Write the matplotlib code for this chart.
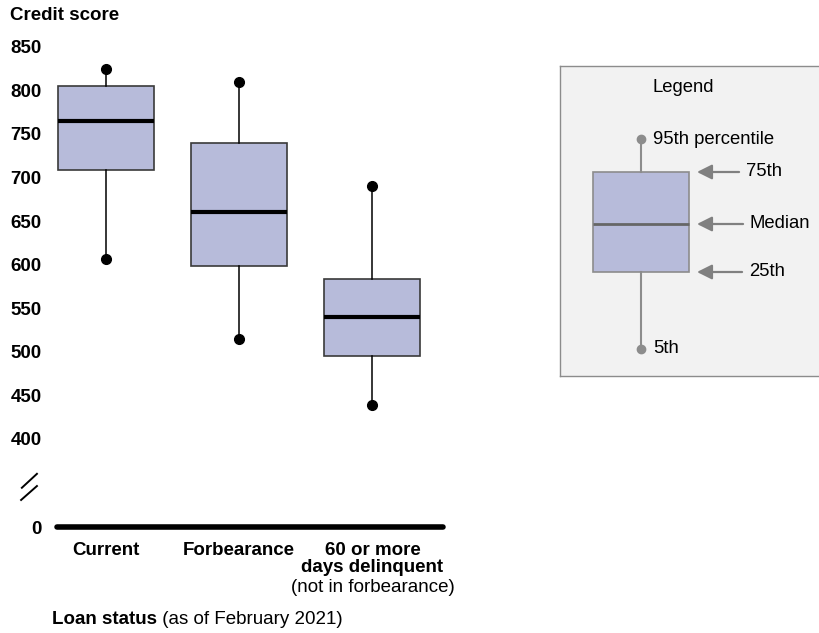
import matplotlib.pyplot as plt
from matplotlib.transforms import blended_transform_factory

plt.rcParams['font.family'] = ['Liberation Sans', 'DejaVu Sans']

# 数据 (从图上读出的百分位数)
categories = ['Current', 'Forbearance', '60 or more\ndays delinquent']
sub_labels = ['', '', '(not in forbearance)']
p5 = [607, 515, 439]
p25 = [708, 598, 495]
median = [765, 660, 540]
p75 = [805, 740, 584]
p95 = [825, 810, 690]

y_ticks = [400, 450, 500, 550, 600, 650, 700, 750, 800, 850]
zero_pos = 299  # "0" 在断轴下方的位置

legend_labels = ['95th percentile', '75th', 'Median', '25th', '5th']

box_fill = '#b7bbda'
fs = 13.5

fig = plt.figure(figsize=(8.2, 6.33), dpi=100)
ax = fig.add_axes([57 / 820, 1 - 527 / 633, 386 / 820, 489 / 633])

stats = []
for i in range(len(categories)):
    stats.append(dict(med=median[i], q1=p25[i], q3=p75[i],
                      whislo=p5[i], whishi=p95[i], fliers=[p5[i], p95[i]]))

ax.bxp(stats, positions=range(len(categories)), widths=0.72, showcaps=False, patch_artist=True,
       boxprops=dict(facecolor=box_fill, edgecolor='#3a3a3a', linewidth=1.2),
       medianprops=dict(color='black', linewidth=3, solid_capstyle='butt'),
       whiskerprops=dict(color='black', linewidth=1.1),
       flierprops=dict(marker='o', markerfacecolor='black', markeredgecolor='black', markersize=7))

ax.set_xlim(-0.368, 2.53)
ax.set_ylim(zero_pos, 860)
for s in ax.spines.values():
    s.set_visible(False)

# 底部粗线
ax.axhline(zero_pos, color='black', linewidth=4, clip_on=False, solid_capstyle='round')

ax.set_yticks([zero_pos] + y_ticks)
ax.set_yticklabels(['0'] + [str(v) for v in y_ticks], fontweight='bold', fontsize=fs)
ax.set_xticks(range(len(categories)))
ax.set_xticklabels(categories, fontweight='bold', fontsize=fs, linespacing=0.95)
ax.tick_params(axis='y', length=0, pad=11)
ax.tick_params(axis='x', length=0, pad=11)

for i, s in enumerate(sub_labels):
    if s:
        ax.annotate(s, xy=(i, zero_pos), xytext=(0, -61), textcoords='offset pixels',
                    ha='center', va='center', fontsize=fs, annotation_clip=False)

# 断轴标记
tr = blended_transform_factory(ax.transAxes, ax.transData)
ax.plot([-0.091, -0.052], [344, 360], color='black', lw=1.4, transform=tr, clip_on=False)
ax.plot([-0.093, -0.052], [330, 346], color='black', lw=1.4, transform=tr, clip_on=False)

fig.text(10 / 820, 1 - 15 / 633, 'Credit score', fontweight='bold', fontsize=fs, va='center')
t = fig.text(52 / 820, 1 - 619 / 633, 'Loan status', fontweight='bold', fontsize=fs, va='center')
ax.annotate(' (as of February 2021)', xy=(1, 0), xycoords=t, ha='left', va='bottom',
            fontsize=fs, annotation_clip=False)

# 图例
lax = fig.add_axes([560 / 820, 1 - 376 / 633, 262 / 820, 310 / 633])
lax.set_facecolor('#f2f2f2')
for s in lax.spines.values():
    s.set_color('#8c8c8c')
    s.set_linewidth(1)

leg = dict(med=152, q1=104, q3=204, whislo=27, whishi=237, fliers=[27, 237])
lax.bxp([leg], positions=[81], widths=96, showcaps=False, patch_artist=True,
        boxprops=dict(facecolor=box_fill, edgecolor='#8c8c8c', linewidth=1.2),
        medianprops=dict(color='#666666', linewidth=2, solid_capstyle='butt'),
        whiskerprops=dict(color='#8c8c8c', linewidth=1.5),
        flierprops=dict(marker='o', markerfacecolor='#8c8c8c', markeredgecolor='#8c8c8c', markersize=6))
lax.set_xlim(0, 262)
lax.set_ylim(0, 310)
lax.set_xticks([])
lax.set_yticks([])

lfs = 13.3
lax.text(92, 289, 'Legend', fontsize=lfs, va='center', ha='left')
lax.text(93, leg['whishi'], legend_labels[0], fontsize=lfs, va='center', ha='left')
lax.text(93, leg['whislo'], legend_labels[4], fontsize=lfs, va='center', ha='left')
arrow = dict(arrowstyle='-|>,head_length=0.6,head_width=0.3', color='#808080', lw=1.6,
             mutation_scale=15, shrinkA=3, shrinkB=0)
for lab, yv, xt in [(legend_labels[1], leg['q3'], 186), (legend_labels[2], leg['med'], 190),
                    (legend_labels[3], leg['q1'], 189)]:
    lax.annotate(lab, xy=(137, yv), xytext=(xt, yv), ha='left', va='center',
                 fontsize=lfs, arrowprops=arrow)

fig.savefig('out.png', dpi=100)
